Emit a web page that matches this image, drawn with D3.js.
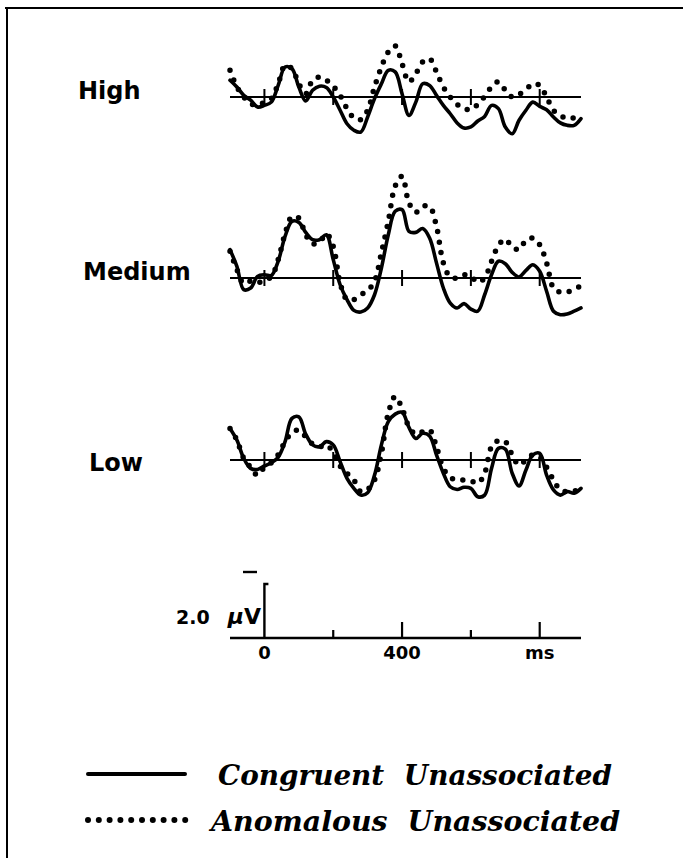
<!DOCTYPE html>
<html>
<head>
<meta charset="utf-8">
<script src="https://cdn.jsdelivr.net/npm/d3@7"></script>
<style>
  body { margin: 0; background: #fff; }
  svg { display: block; }
</style>
</head>
<body>
<div class="chart"></div>
<script>
// time points (ms), every 20 ms from -100 to 920
const times = d3.range(-100, 921, 20);

// amplitudes in microvolts (negative plotted up)
const high_congruent = [-0.62,-0.37,-0.06,0.12,0.37,0.31,0.19,-0.43,-1.11,-1.05,-0.37,0.15,-0.25,-0.40,-0.35,0,0.49,0.99,1.23,1.30,0.74,0.06,-0.49,-0.99,-0.93,-0.12,0.68,0.19,-0.49,-0.43,-0.06,0.31,0.62,0.96,1.15,1.11,0.89,0.72,0.31,0.43,1.11,1.36,0.86,0.49,0.19,0.35,0.47,0.74,0.96,1.05,1.05,0.80];
const high_anomalous = [-0.99,-0.37,0,0.25,0.31,0.19,0.06,-0.49,-1.17,-1.05,-0.49,-0.12,-0.62,-0.74,-0.62,-0.40,-0.06,0.43,0.77,0.84,0.49,-0.37,-1.11,-1.67,-1.89,-1.23,-0.56,-0.86,-1.30,-1.42,-0.93,-0.37,0,0.27,0.43,0.47,0.27,-0.02,-0.37,-0.56,-0.25,0,-0.10,-0.27,-0.49,-0.43,0,0.49,0.68,0.80,0.77,0.68];

const medium_congruent = [-1.05,-0.43,0.43,0.37,-0.06,-0.12,-0.09,-0.62,-1.54,-2.10,-2.06,-1.69,-1.42,-1.42,-1.60,-0.68,0.25,0.80,1.20,1.26,1.11,0.62,-0.37,-1.60,-2.47,-2.53,-1.73,-1.69,-1.83,-1.48,-0.56,0.37,0.93,1.11,0.95,1.15,1.23,0.62,-0.12,-0.62,-0.53,-0.21,-0.04,-0.28,-0.49,-0.25,0.49,1.23,1.36,1.33,1.23,1.11];
const medium_anomalous = [-0.99,-0.31,0.21,0.12,0.19,0.06,-0.04,-0.68,-1.64,-2.28,-2.22,-1.60,-1.27,-1.32,-1.64,-1.17,0.19,0.80,0.80,0.62,0.46,0.12,-0.93,-2.10,-3.40,-3.77,-2.78,-2.43,-2.65,-2.65,-1.91,-0.56,-0.04,0,-0.12,-0.06,0.16,0,-0.62,-1.20,-1.44,-1.15,-1.05,-1.40,-1.48,-1.23,-0.56,0.37,0.53,0.52,0.43,0.28];

const low_congruent = [-1.17,-0.74,-0.06,0.31,0.35,0.22,0.10,-0.10,-0.68,-1.54,-1.60,-0.96,-0.56,-0.49,-0.68,-0.56,0.06,0.68,1.05,1.30,1.21,0.56,-0.56,-1.42,-1.70,-1.77,-1.21,-0.80,-0.99,-0.89,-0.19,0.49,0.99,1.09,1.01,1.05,1.36,1.30,0.31,-0.43,-0.40,0.49,0.96,0.37,-0.19,-0.25,0.56,1.11,1.30,1.17,1.23,1.05];
const low_anomalous = [-1.17,-0.74,-0.06,0.27,0.56,0.27,0.10,-0.19,-0.68,-1.01,-1.11,-0.86,-0.59,-0.49,-0.56,-0.27,0.22,0.49,0.74,1.17,1.09,0.74,-0.25,-1.73,-2.35,-1.91,-1.23,-0.96,-1.05,-1.11,-0.49,0.31,0.64,0.74,0.74,0.77,0.86,0.49,-0.49,-0.72,-0.68,-0.19,0.19,0,-0.19,-0.10,0.27,0.74,1.11,1.17,1.14,1.11];

const panels = [
  { label: "High", congruent: high_congruent, anomalous: high_anomalous },
  { label: "Medium", congruent: medium_congruent, anomalous: medium_anomalous },
  { label: "Low", congruent: low_congruent, anomalous: low_anomalous },
];
const panel_baselines = [97, 278, 460];
const label_x = [78, 83, 89];
const label_y = [99, 280, 471];

const tick_times = [0, 200, 400, 600, 800];
const bar_labels = [{ t: 0, text: "0" }, { t: 400, text: "400" }, { t: 800, text: "ms" }];
const legend_items = ["Congruent Unassociated", "Anomalous Unassociated"];

const W = 683, H = 858;
const svg = d3.select(".chart").append("svg")
  .attr("width", W)
  .attr("height", H);

// frame (top and left edges)
svg.append("path")
  .attr("d", `M 5 8 L ${W} 8 M 7 8 L 7 ${H}`)
  .attr("stroke", "#000")
  .attr("stroke-width", 2)
  .attr("fill", "none");

const x = d3.scaleLinear().domain([-100, 920]).range([230, 581]);
const uv_px = 27; // pixels per microvolt

const font_label = "'DejaVu Sans', sans-serif";

panels.forEach((p, i) => {
  const base = panel_baselines[i];
  const y = d3.scaleLinear().domain([-4, 4]).range([base - 4 * uv_px, base + 4 * uv_px]);
  const g = svg.append("g").attr("class", "panel");

  // baseline
  g.append("line")
    .attr("x1", x(-100)).attr("x2", x(920))
    .attr("y1", base).attr("y2", base)
    .attr("stroke", "#000").attr("stroke-width", 2);
  // ticks crossing the baseline
  g.selectAll("line.tick")
    .data(tick_times)
    .enter().append("line")
      .attr("class", "tick")
      .attr("x1", d => x(d)).attr("x2", d => x(d))
      .attr("y1", base - 8).attr("y2", base + 8)
      .attr("stroke", "#000").attr("stroke-width", 2);

  const line = d3.line()
    .x((d, j) => x(times[j]))
    .y(d => y(d))
    .curve(d3.curveCatmullRom.alpha(0.5));

  // congruent: solid
  g.append("path")
    .attr("d", line(p.congruent))
    .attr("fill", "none")
    .attr("stroke", "#000")
    .attr("stroke-width", 3.6)
    .attr("stroke-linejoin", "round")
    .attr("stroke-linecap", "round");

  // anomalous: dotted
  g.append("path")
    .attr("d", line(p.anomalous))
    .attr("fill", "none")
    .attr("stroke", "#000")
    .attr("stroke-width", 5.5)
    .attr("stroke-linecap", "round")
    .attr("stroke-dasharray", "0 10.5");

  g.append("text")
    .attr("x", label_x[i])
    .attr("y", label_y[i])
    .style("font-family", font_label)
    .style("font-weight", "bold")
    .style("font-size", "24px")
    .text(p.label);
});

// calibration / time scale bar
const bar_base = 638;
const bar = svg.append("g").attr("class", "scalebar");
bar.append("line")
  .attr("x1", x(-100)).attr("x2", x(920))
  .attr("y1", bar_base).attr("y2", bar_base)
  .attr("stroke", "#000").attr("stroke-width", 2.4);
bar.selectAll("line.tick")
  .data(tick_times.filter(d => d !== 0))
  .enter().append("line")
    .attr("class", "tick")
    .attr("x1", d => x(d)).attr("x2", d => x(d))
    .attr("y1", d => bar_base - (d % 400 === 0 ? 16 : 8)).attr("y2", bar_base)
    .attr("stroke", "#000").attr("stroke-width", 2.2);
// 2.0 uV vertical bar at 0 ms
bar.append("path")
  .attr("d", `M ${x(0) + 4} ${bar_base - 2 * uv_px} L ${x(0)} ${bar_base - 2 * uv_px} L ${x(0)} ${bar_base}`)
  .attr("fill", "none")
  .attr("stroke", "#000").attr("stroke-width", 2.4);
// minus sign (negative up)
bar.append("line")
  .attr("x1", 243).attr("x2", 257)
  .attr("y1", 572).attr("y2", 572)
  .attr("stroke", "#000").attr("stroke-width", 2.4);
bar.append("text")
  .attr("x", 176).attr("y", 624)
  .style("font-family", font_label)
  .style("font-weight", "bold")
  .style("font-size", "19px")
  .text("2.0");
const cal = bar.append("text")
  .attr("x", 261).attr("y", 624)
  .attr("text-anchor", "end")
  .style("font-family", font_label)
  .style("font-weight", "bold")
  .style("font-size", "22px");
cal.append("tspan").style("font-style", "italic").text("\u03BC");
cal.append("tspan").text("V");
bar.selectAll("text.tlabel")
  .data(bar_labels)
  .enter().append("text")
    .attr("class", "tlabel")
    .attr("x", d => x(d.t))
    .attr("y", 659)
    .attr("text-anchor", "middle")
    .style("font-family", font_label)
    .style("font-weight", "bold")
    .style("font-size", "18px")
    .text(d => d.text);

// legend
const legend = svg.append("g").attr("class", "legend");
const legend_y = [774, 820];
legend.append("line")
  .attr("x1", 88).attr("x2", 185)
  .attr("y1", legend_y[0]).attr("y2", legend_y[0])
  .attr("stroke", "#000").attr("stroke-width", 4).attr("stroke-linecap", "round");
legend.selectAll("circle")
  .data(d3.range(10))
  .enter().append("circle")
    .attr("cx", d => 88 + d * 10.8)
    .attr("cy", legend_y[1])
    .attr("r", 3)
    .attr("fill", "#000");
legend.selectAll("text")
  .data(legend_items)
  .enter().append("text")
    .attr("x", (d, i) => i === 0 ? 218 : 211)
    .attr("y", (d, i) => legend_y[i] + 11)
    .attr("textLength", (d, i) => i === 0 ? 394 : 409)
    .attr("lengthAdjust", "spacingAndGlyphs")
    .style("font-family", "'DejaVu Serif', serif")
    .style("font-style", "italic")
    .style("font-weight", "bold")
    .style("font-size", "28px")
    .style("word-spacing", "10px")
    .text(d => d);
</script>
</body>
</html>
